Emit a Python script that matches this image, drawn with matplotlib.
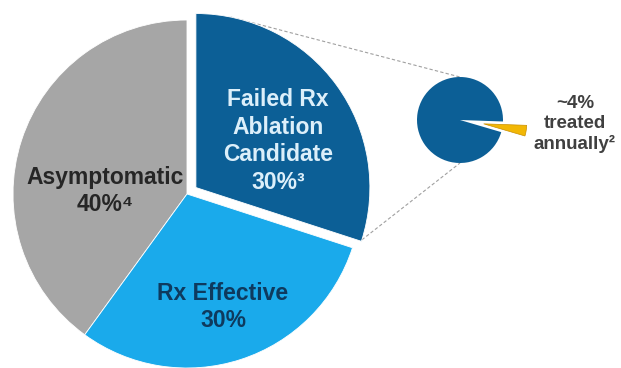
import numpy as np
import matplotlib
matplotlib.use("Agg")
import matplotlib.pyplot as plt

plt.rcParams['font.family'] = ['Liberation Sans', 'DejaVu Sans']

# main pie: share of patients (%)
segments = ["Asymptomatic", "Rx Effective", "Failed Rx Ablation Candidate"]
shares = [40, 30, 30]
seg_colors = ["#A6A6A6", "#1AAAEB", "#0C5F96"]

# detail pie: failed-Rx group split
detail_labels = ["treated annually", "untreated"]
detail_shares = [4, 96]
detail_colors = ["#F2B705", "#0C5F96"]

W, H = 621, 368
fig = plt.figure(figsize=(W / 100, H / 100), dpi=100)
ax = fig.add_axes([0, 0, 1, 1])


# pixel-style coordinates, y measured from the top
def P(x, y):
    return (x, H - y)


cx, cy = P(187, 194)
R = 174
pop = 11
ax.pie(shares, colors=seg_colors, startangle=90, counterclock=True,
       center=(cx, cy), radius=R, explode=[0, 0, pop],
       wedgeprops=dict(linewidth=0.6, edgecolor="white"))

# small pie with the treated slice pulled out
sx, sy = P(460, 120)
r = 43
ax.pie(detail_shares, colors=detail_colors, startangle=-16.4,
       counterclock=True, center=(sx, sy), radius=r, explode=[24, 0],
       wedgeprops=dict(linewidth=0.5, edgecolor="none"))
ax.patches[-2].set_edgecolor("#C98F00")

# pie() resets the view, so set the canvas afterwards
ax.set_xlim(0, W)
ax.set_ylim(0, H)
ax.set_aspect("equal")
ax.axis("off")

# dashed connectors from the exploded slice to the small pie
mid = np.deg2rad(36)
ex, ey = cx + pop * np.cos(mid), cy + pop * np.sin(mid)
for ang, (tx, ty) in [(78.5, (sx, sy + r)), (-17.5, (sx, sy - r))]:
    a = np.deg2rad(ang)
    ax.plot([ex + R * np.cos(a), tx], [ey + R * np.sin(a), ty],
            color="#A0A0A0", lw=0.8, ls=(0, (3, 2)), zorder=0)

ax.text(*P(105, 191), "Asymptomatic\n40%\u2074", ha="center", va="center",
        fontsize=16.5, fontweight="bold", color="#262626", linespacing=1.27)
ax.text(*P(278, 141), "Failed Rx\nAblation\nCandidate\n30%\u00b3", ha="center",
        va="center", fontsize=16.5, fontweight="bold", color="#DCEFFA",
        linespacing=1.27)
ax.text(*P(223, 307), "Rx Effective\n30%", ha="center", va="center",
        fontsize=16.5, fontweight="bold", color="#0E3A5E", linespacing=1.27)
ax.text(*P(575, 124), "~4%\ntreated\nannually\u00b2", ha="center", va="center",
        fontsize=13.5, fontweight="bold", color="#404040", linespacing=1.2)

fig.savefig("out.png", dpi=100)
